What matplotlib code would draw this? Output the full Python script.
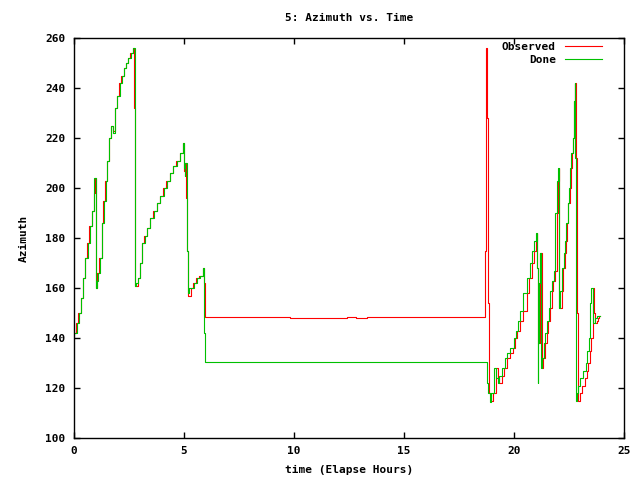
import matplotlib
matplotlib.use('agg')
import matplotlib.pyplot as plt

# Observed azimuth (deg) vs elapsed hours
obs_t = [0.0, 0.1, 0.2, 0.3, 0.4, 0.5, 0.6, 0.7, 0.8, 0.9, 0.95, 1.0, 1.05, 1.15, 1.25, 1.33,
         1.42, 1.5, 1.6, 1.7, 1.78, 1.85, 1.95, 2.05, 2.15, 2.25, 2.35, 2.45, 2.55, 2.69, 2.72,
         2.75, 2.78, 2.9, 3.0, 3.08, 3.2, 3.3, 3.45, 3.6, 3.75, 3.9, 4.05, 4.2, 4.36, 4.5, 4.65,
         4.82, 4.97, 5.0, 5.05, 5.1, 5.15, 5.2, 5.3, 5.42, 5.55, 5.7, 5.87, 5.9, 5.95,
         9.8, 12.4, 12.8, 13.3, 18.68, 18.72, 18.76, 18.82, 18.88, 18.95, 19.06, 19.18, 19.25,
         19.3, 19.44, 19.55, 19.67, 19.8, 19.97, 20.05, 20.15, 20.27, 20.4, 20.58, 20.7, 20.8,
         20.9, 21.0, 21.03, 21.06, 21.1, 21.13, 21.18, 21.2, 21.26, 21.33, 21.4, 21.48, 21.56,
         21.63, 21.71, 21.78, 21.86, 21.94, 21.99, 22.03, 22.06, 22.17, 22.24, 22.3, 22.36,
         22.42, 22.47, 22.53, 22.59, 22.65, 22.7, 22.74, 22.77, 22.8, 22.85, 22.9, 23.0, 23.1,
         23.23, 23.3, 23.38, 23.45, 23.5, 23.58, 23.6, 23.65, 23.68, 23.76, 23.82, 23.88, 23.92]
obs_az = [142, 146, 150, 156, 164, 172, 178, 185, 191, 198, 204, 160, 166, 172, 186, 195,
          203, 211, 220, 225, 223, 232, 237, 242, 245, 248, 250, 252, 254, 256, 232,
          185, 161, 164, 170, 178, 181, 184, 188, 191, 194, 197, 200, 203, 206, 209, 211,
          214, 218, 207, 210, 196, 175, 157, 160, 162, 164, 165, 168, 162, 148.3,
          147.9, 148.5, 147.9, 148.3, 175, 256, 228, 154, 118, 115, 118, 128, 124,
          122, 125, 128, 132, 134, 136, 140, 143, 147, 151, 158, 164, 170,
          175, 179, 182, 168, 138, 138, 162, 174, 128, 132, 138, 142, 147,
          152, 159, 163, 167, 190, 203, 208, 152, 159, 168, 174, 179,
          186, 194, 200, 208, 214, 220, 235, 242, 212, 150, 115, 118, 121,
          124, 127, 130, 135, 140, 154, 160, 150, 146, 147, 148, 149, 149]

# Dome azimuth (deg) vs elapsed hours
dome_t = [0.0, 0.12, 0.22, 0.32, 0.42, 0.52, 0.62, 0.72, 0.82, 0.9, 0.93, 1.0, 1.03, 1.08,
          1.17, 1.27, 1.35, 1.44, 1.52, 1.6, 1.7, 1.75, 1.85, 1.97, 2.07, 2.17, 2.27, 2.37,
          2.47, 2.57, 2.69, 2.75, 2.78, 2.82, 2.92, 3.02, 3.1, 3.22, 3.32, 3.47, 3.62, 3.77,
          3.92, 4.07, 4.22, 4.38, 4.52, 4.67, 4.84, 4.97, 5.0, 5.03, 5.05, 5.12, 5.15, 5.2,
          5.22, 5.3, 5.44, 5.57, 5.72, 5.85, 5.9, 5.93, 5.95, 18.77, 18.8, 18.9, 18.95, 19.08,
          19.2, 19.27, 19.32, 19.46, 19.57, 19.69, 19.82, 19.99, 20.07, 20.17, 20.29, 20.42,
          20.6, 20.72, 20.82, 20.92, 21.0, 21.04, 21.07, 21.1, 21.14, 21.18, 21.21, 21.27,
          21.35, 21.42, 21.5, 21.58, 21.65, 21.73, 21.8, 21.88, 21.94, 21.99, 22.03, 22.07,
          22.19, 22.26, 22.32, 22.38, 22.44, 22.49, 22.55, 22.61, 22.67, 22.72, 22.75, 22.77,
          22.8, 22.85, 22.92, 23.02, 23.12, 23.25, 23.32, 23.4, 23.47, 23.52, 23.58, 23.6,
          23.66, 23.7, 23.78, 23.84, 23.9, 23.92]
dome_az = [142, 146, 150, 156, 164, 172, 178, 185, 191, 198, 204, 160, 163, 166,
           172, 186, 195, 203, 211, 220, 225, 222, 232, 237, 242, 245, 248, 250,
           252, 254, 256, 185, 161, 162, 164, 170, 178, 181, 184, 188, 191, 194,
           197, 200, 203, 206, 209, 211, 214, 218, 208, 205, 210, 196, 175, 158,
           160, 160, 162, 164, 165, 168, 160, 142, 130.5, 122, 118, 114.5, 118, 128,
           124, 122, 125, 128, 132, 134, 136, 140, 143, 147, 151, 158,
           164, 170, 175, 179, 182, 168, 122, 138, 162, 174, 128, 132,
           138, 142, 147, 152, 159, 163, 167, 190, 203, 208, 152, 159,
           168, 174, 179, 186, 194, 200, 208, 214, 220, 235, 242, 212,
           115, 118, 121, 124, 127, 130, 135, 140, 154, 160, 150, 146,
           147, 148, 149, 149, 149, 149]

font = 'DejaVu Sans Mono'

fig = plt.figure(figsize=(6.4, 4.8), dpi=100)
ax = fig.add_axes([74/640., 42/480., 550/640., 400/480.])

ax.plot(obs_t, obs_az, c='#ff0000', lw=0.8, drawstyle='steps-post', label='Observed')
ax.plot(dome_t, dome_az, c='#00c000', lw=0.8, drawstyle='steps-post', label='Done')

ax.axis([0., 25., 100., 260.])
ax.set_xticks(range(0, 26, 5))
ax.set_yticks(range(100, 261, 20))
ax.tick_params(direction='in', top=True, right=True, length=4, width=1,
               labelsize=8, pad=6)
for lab in ax.get_xticklabels() + ax.get_yticklabels():
    lab.set_family(font)
    lab.set_weight('bold')
for s in ax.spines.values():
    s.set_linewidth(1)

ax.set_title('5: Azimuth vs. Time', family=font, weight='bold', fontsize=8, pad=12)
ax.set_xlabel('time (Elapse Hours)', family=font, weight='bold', fontsize=8, labelpad=6)
ax.set_ylabel('Azimuth', family=font, weight='bold', fontsize=8, labelpad=12)

leg = ax.legend(loc='upper right', frameon=False, markerfirst=False,
                prop={'family': font, 'weight': 'bold', 'size': 8},
                handlelength=3.4, borderaxespad=0.3, labelspacing=0.25,
                bbox_to_anchor=(0.975, 1.01))

fig.savefig('out.png', dpi=100)
